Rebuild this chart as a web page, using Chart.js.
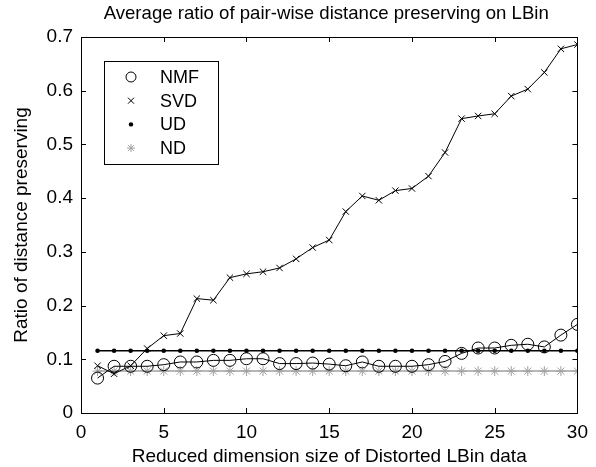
<!DOCTYPE html>
<html>
<head>
<meta charset="utf-8">
<script src="https://cdn.jsdelivr.net/npm/chart.js@4.4.1/dist/chart.umd.min.js"></script>
<style>
  html, body { margin: 0; padding: 0; background: #fff; }
  #wrap { width: 596px; height: 467px; }
</style>
</head>
<body>
<div id="wrap"><canvas id="myChart" width="596" height="467"></canvas></div>
<script>
// reduced dimension sizes
var dims = [1, 2, 3, 4, 5, 6, 7, 8, 9, 10, 11, 12, 13, 14, 15,
            16, 17, 18, 19, 20, 21, 22, 23, 24, 25, 26, 27, 28, 29, 30];

var nmfValues = [0.065, 0.087, 0.087, 0.087, 0.090, 0.095, 0.095, 0.098, 0.098, 0.101,
                 0.101, 0.092, 0.092, 0.093, 0.091, 0.088, 0.095, 0.087, 0.087, 0.087,
                 0.090, 0.096, 0.111, 0.121, 0.121, 0.126, 0.128, 0.123, 0.145, 0.165];

var svdValues = [0.088, 0.073, 0.088, 0.120, 0.144, 0.148, 0.213, 0.210, 0.252, 0.259,
                 0.263, 0.270, 0.287, 0.308, 0.322, 0.375, 0.404, 0.396, 0.414, 0.418,
                 0.441, 0.485, 0.548, 0.553, 0.557, 0.590, 0.603, 0.634, 0.678, 0.686];

var udValues = [0.116, 0.116, 0.116, 0.116, 0.116, 0.116, 0.116, 0.116, 0.116, 0.116,
                0.116, 0.116, 0.116, 0.116, 0.116, 0.116, 0.116, 0.116, 0.116, 0.116,
                0.116, 0.116, 0.116, 0.116, 0.116, 0.116, 0.116, 0.116, 0.116, 0.116];

var ndValues = [0.078, 0.078, 0.078, 0.078, 0.078, 0.078, 0.078, 0.078, 0.078, 0.078,
                0.078, 0.078, 0.078, 0.078, 0.078, 0.078, 0.078, 0.078, 0.078, 0.078,
                0.078, 0.078, 0.078, 0.078, 0.078, 0.078, 0.078, 0.078, 0.078, 0.078];

var seriesNames = ['NMF', 'SVD', 'UD', 'ND'];
var chartTitle = 'Average ratio of pair-wise distance preserving on LBin';

var xTicks = [0, 5, 10, 15, 20, 25, 30];
var yTicks = [0, 0.1, 0.2, 0.3, 0.4, 0.5, 0.6, 0.7];

var FONT = 'Liberation Sans, Arial, sans-serif';
var GREY = '#a0a0a0';

function points(values) {
    var pts = [];
    for (var i = 0; i < dims.length; i++) {
        pts.push({ x: dims[i], y: values[i] });
    }
    return pts;
}

// legend markers
function drawMarker(ctx, style, x, y) {
    ctx.save();
    ctx.lineWidth = 1;
    if (style === 'circle') {
        ctx.strokeStyle = '#000';
        ctx.beginPath();
        ctx.arc(x, y, 5, 0, Math.PI * 2);
        ctx.stroke();
    } else if (style === 'cross') {
        ctx.strokeStyle = '#000';
        ctx.beginPath();
        ctx.moveTo(x - 3, y - 3); ctx.lineTo(x + 3, y + 3);
        ctx.moveTo(x + 3, y - 3); ctx.lineTo(x - 3, y + 3);
        ctx.stroke();
    } else if (style === 'dot') {
        ctx.fillStyle = '#000';
        ctx.beginPath();
        ctx.arc(x, y, 2.2, 0, Math.PI * 2);
        ctx.fill();
    } else {
        ctx.strokeStyle = GREY;
        ctx.beginPath();
        ctx.moveTo(x - 4, y); ctx.lineTo(x + 4, y);
        ctx.moveTo(x, y - 4); ctx.lineTo(x, y + 4);
        ctx.moveTo(x - 3, y - 3); ctx.lineTo(x + 3, y + 3);
        ctx.moveTo(x + 3, y - 3); ctx.lineTo(x - 3, y + 3);
        ctx.stroke();
    }
    ctx.restore();
}

// matlab style box, inward ticks, title over the axes and legend
var boxPlugin = {
    id: 'matlabBox',
    afterDraw: function (chart) {
        var ctx = chart.ctx;
        var a = chart.chartArea;
        var xs = chart.scales.x;
        var ys = chart.scales.y;
        ctx.save();
        ctx.strokeStyle = '#000';
        ctx.lineWidth = 1;
        ctx.strokeRect(Math.round(a.left) + 0.5, Math.round(a.top) + 0.5,
                       Math.round(a.right - a.left), Math.round(a.bottom - a.top));
        ctx.beginPath();
        xTicks.forEach(function (t) {
            var px = Math.round(xs.getPixelForValue(t)) + 0.5;
            ctx.moveTo(px, a.bottom); ctx.lineTo(px, a.bottom - 5);
            ctx.moveTo(px, a.top); ctx.lineTo(px, a.top + 5);
        });
        yTicks.forEach(function (t) {
            var py = Math.round(ys.getPixelForValue(t)) + 0.5;
            ctx.moveTo(a.left, py); ctx.lineTo(a.left + 5, py);
            ctx.moveTo(a.right, py); ctx.lineTo(a.right - 5, py);
        });
        ctx.stroke();

        // title centred on the axes
        ctx.fillStyle = '#000';
        ctx.font = '18.6px ' + FONT;
        ctx.textAlign = 'center';
        ctx.textBaseline = 'middle';
        ctx.fillText(chartTitle, (a.left + a.right) / 2 - 3, 13.5);

        // legend
        var lx = a.left + 23, ly = a.top + 24, lw = 114, lh = 103;
        ctx.fillStyle = '#fff';
        ctx.fillRect(lx, ly, lw, lh);
        ctx.strokeRect(lx + 0.5, ly + 0.5, lw, lh);
        var styles = ['circle', 'cross', 'dot', 'star'];
        ctx.font = '18px ' + FONT;
        ctx.fillStyle = '#000';
        ctx.textAlign = 'left';
        for (var i = 0; i < seriesNames.length; i++) {
            var yy = ly + 16 + i * 23.7;
            drawMarker(ctx, styles[i], lx + 27, yy);
            ctx.fillText(seriesNames[i], lx + 56, yy + 1);
        }
        ctx.restore();
    }
};

var ctx = document.getElementById('myChart').getContext('2d');
var myChart = new Chart(ctx, {
    type: 'scatter',
    data: {
        datasets: [
            {
                label: seriesNames[0],
                data: points(nmfValues),
                showLine: true,
                borderColor: '#000',
                borderWidth: 1,
                pointStyle: 'circle',
                pointRadius: 6,
                pointBorderColor: '#000',
                pointBackgroundColor: 'rgba(0,0,0,0)',
                pointBorderWidth: 1
            },
            {
                label: seriesNames[1],
                data: points(svdValues),
                showLine: true,
                borderColor: '#000',
                borderWidth: 1,
                pointStyle: 'crossRot',
                pointRadius: 4.5,
                pointBorderColor: '#000',
                pointBorderWidth: 1
            },
            {
                label: seriesNames[2],
                data: points(udValues),
                showLine: true,
                borderColor: '#000',
                borderWidth: 1.5,
                pointStyle: 'circle',
                pointRadius: 2.3,
                pointBorderWidth: 0,
                pointBackgroundColor: '#000'
            },
            {
                label: seriesNames[3],
                data: points(ndValues),
                showLine: true,
                borderColor: GREY,
                borderWidth: 1.5,
                pointStyle: 'star',
                pointRadius: 5,
                pointBorderColor: GREY,
                pointBorderWidth: 1
            }
        ]
    },
    options: {
        responsive: false,
        animation: false,
        events: [],
        layout: { padding: { left: 0, right: 18, top: 37, bottom: 0 } },
        plugins: {
            legend: { display: false },
            tooltip: { enabled: false },
            title: { display: false }
        },
        scales: {
            x: {
                type: 'linear',
                min: 0,
                max: 30,
                afterBuildTicks: function (scale) {
                    scale.ticks = xTicks.map(function (v) { return { value: v }; });
                },
                afterFit: function (scale) { scale.height = 54; },
                grid: { display: false, drawTicks: false },
                border: { display: false },
                ticks: {
                    color: '#000',
                    padding: 8,
                    maxRotation: 0,
                    font: { family: FONT, size: 19 }
                },
                title: {
                    display: true,
                    text: 'Reduced dimension size of Distorted LBin data',
                    color: '#000',
                    font: { family: FONT, size: 19, lineHeight: 1 },
                    padding: { top: 0, bottom: 0.5 }
                }
            },
            y: {
                type: 'linear',
                min: 0,
                max: 0.7,
                afterBuildTicks: function (scale) {
                    scale.ticks = yTicks.map(function (v) { return { value: v }; });
                },
                afterFit: function (scale) { scale.width = 81; },
                grid: { display: false, drawTicks: false },
                border: { display: false },
                ticks: {
                    color: '#000',
                    padding: 8,
                    font: { family: FONT, size: 19 },
                    callback: function (v) { return v === 0 ? '0' : v.toFixed(1); }
                },
                title: {
                    display: true,
                    text: 'Ratio of distance preserving',
                    color: '#000',
                    font: { family: FONT, size: 19 },
                    padding: { top: 10.6, bottom: 0 }
                }
            }
        }
    },
    plugins: [boxPlugin]
});
</script>
</body>
</html>
